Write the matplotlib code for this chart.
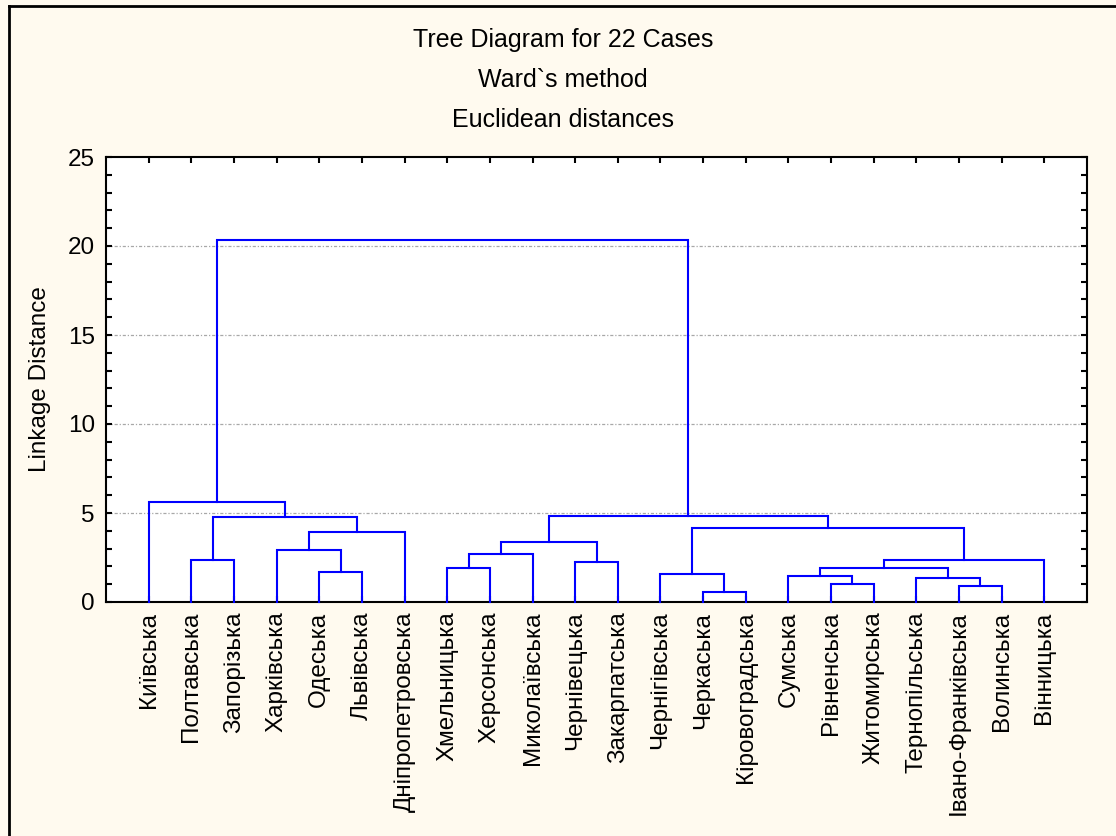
import matplotlib
matplotlib.use("Agg")
import matplotlib.pyplot as plt
from matplotlib.lines import Line2D
from matplotlib.ticker import MultipleLocator, FixedLocator

plt.rcParams['font.family'] = ['Liberation Sans', 'DejaVu Sans']

# ---- data ----
leaf_labels = ["Київська", "Полтавська", "Запорізька", "Харківська", "Одеська",
               "Львівська", "Дніпропетровська", "Хмельницька", "Херсонська",
               "Миколаївська", "Чернівецька", "Закарпатська", "Чернігівська",
               "Черкаська", "Кіровоградська", "Сумська", "Рівненська",
               "Житомирська", "Тернопільська", "Івано-Франківська", "Волинська",
               "Вінницька"]
# merges: clusters numbered 22, 23, ... in order
merge_left = [4, 3, 23, 1, 25, 0, 7, 28, 10, 29, 13, 12, 16, 15, 19, 18, 35, 38, 33, 31, 27]
merge_right = [5, 22, 6, 2, 24, 26, 8, 9, 11, 30, 14, 32, 17, 34, 20, 36, 37, 21, 39, 40, 41]
merge_height = [1.67, 2.90, 3.93, 2.36, 4.79, 5.60, 1.89, 2.68, 2.25, 3.37, 0.54, 1.56,
                0.99, 1.44, 0.88, 1.33, 1.89, 2.36, 4.14, 4.85, 20.34]
y_ticks = [0, 5, 10, 15, 20, 25]
title_lines = ["Tree Diagram for 22 Cases", "Ward`s method", "Euclidean distances"]
y_label = "Linkage Distance"

W, H = 1116, 836
bg = '#FFFAEF'
fig = plt.figure(figsize=(W / 100, H / 100), dpi=100, facecolor=bg)
ax = fig.add_axes([106 / W, (H - 602) / H, 981 / W, 445 / H])
ax.set_facecolor('white')

n = len(leaf_labels)
xpos = {i: i + 1 for i in range(n)}
ypos = {i: 0.0 for i in range(n)}
for k, (a, b, h) in enumerate(zip(merge_left, merge_right, merge_height)):
    cid = n + k
    xa, xb = xpos[a], xpos[b]
    ax.plot([xa, xa, xb, xb], [ypos[a], h, h, ypos[b]], color='#0000FF', lw=1.5,
            solid_joinstyle='miter', zorder=3, clip_on=False)
    xpos[cid] = (xa + xb) / 2
    ypos[cid] = h

ax.set_xlim(0, n + 1)
ax.set_ylim(0, 25)

for v in y_ticks[1:-1]:
    ax.axhline(v, color='#A8A8A8', lw=0.9, ls=(0, (2.5, 1.5, 1, 1.5)), zorder=1)

ax.yaxis.set_major_locator(FixedLocator(y_ticks))
ax.yaxis.set_minor_locator(MultipleLocator(1))
ax.xaxis.set_major_locator(FixedLocator(list(range(1, n + 1))))
ax.set_xticklabels(leaf_labels, rotation=90, fontsize=17.5, va='top', ha='center')
ax.set_yticklabels([str(v) for v in y_ticks], fontsize=17.5)
ax.tick_params(axis='both', which='both', direction='in', top=True, right=True,
               color='black', width=1.5)
ax.tick_params(axis='y', which='major', length=4, pad=8)
ax.tick_params(axis='y', which='minor', length=4)
ax.tick_params(axis='x', which='major', length=4, pad=7)
for s in ax.spines.values():
    s.set_linewidth(1.5)
    s.set_color('black')

ax.set_ylabel(y_label, fontsize=17.5)
ax.yaxis.set_label_coords((51 - 106) / 981, 0.5)

for i, t in enumerate(title_lines):
    fig.text(563 / W, 1 - (40 + 40 * i) / H, t, ha='center', va='center', fontsize=18)

# window frame (left and top edges)
fig.add_artist(Line2D([9 / W, 9 / W], [0, 1 - 6 / H], transform=fig.transFigure,
                      color='black', lw=2))
fig.add_artist(Line2D([9 / W, 1], [1 - 6 / H, 1 - 6 / H], transform=fig.transFigure,
                      color='black', lw=2))

fig.savefig('out.png', dpi=100, facecolor=bg)
